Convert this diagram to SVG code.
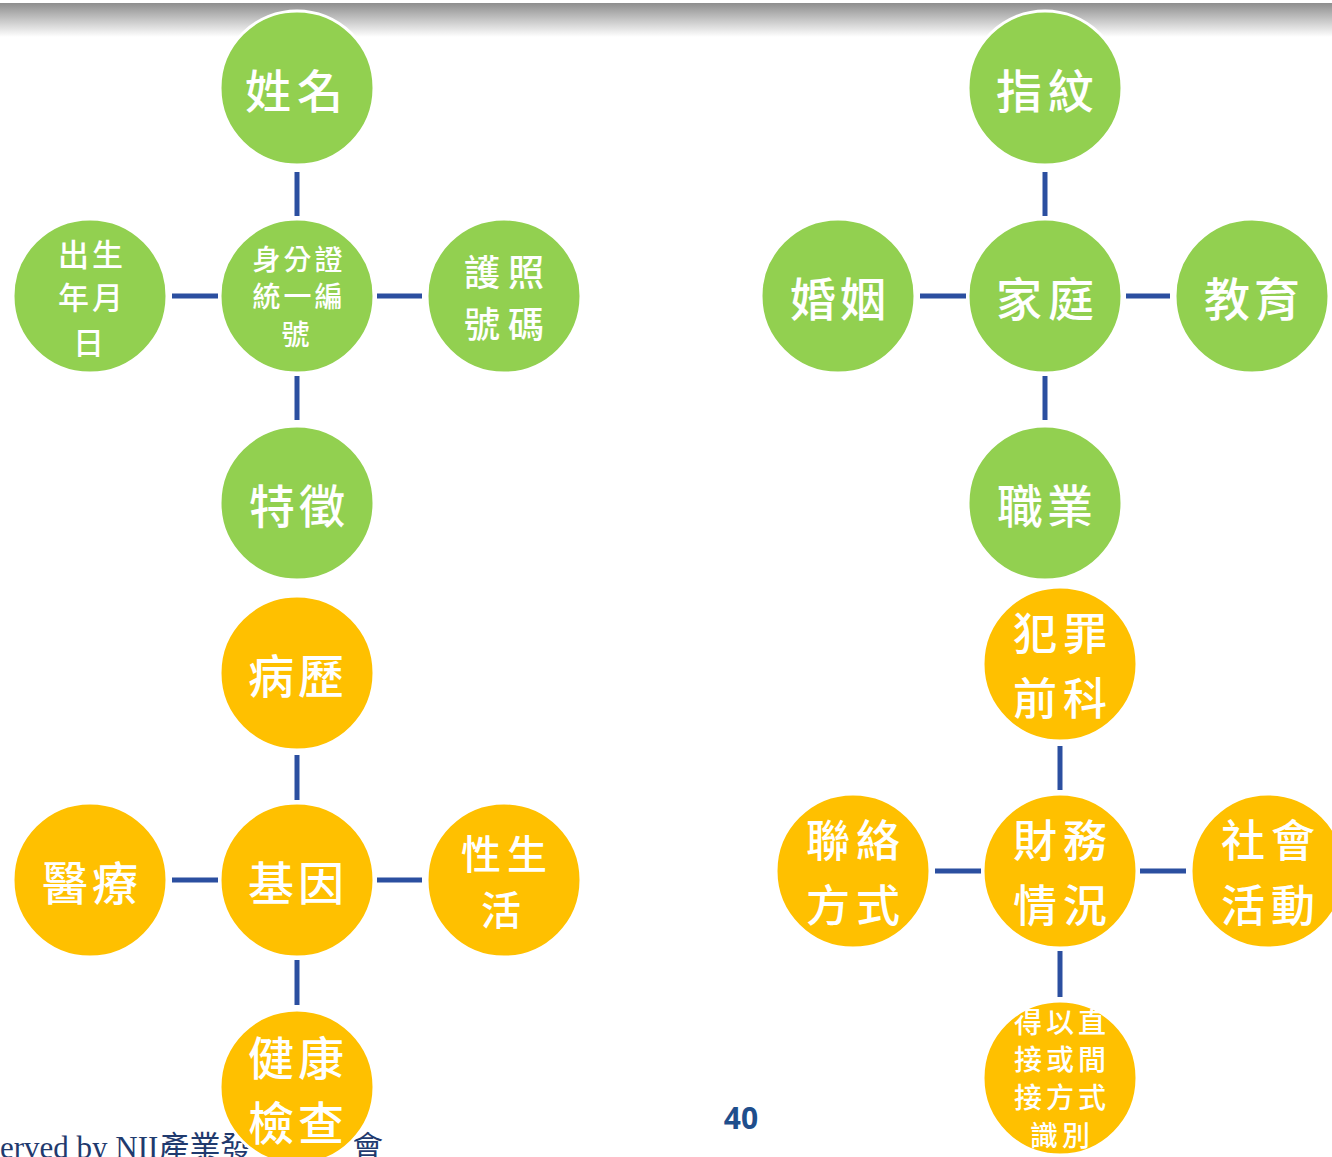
<svg xmlns="http://www.w3.org/2000/svg" width="1332" height="1157" viewBox="0 0 1332 1157">
  <defs>
    <linearGradient id="topShade" x1="0" y1="0" x2="0" y2="1">
      <stop offset="0" stop-color="#8e8e8e"/>
      <stop offset="1" stop-color="#ffffff"/>
    </linearGradient>
  </defs>
  <style>
    .g { fill: #92d050; stroke: #ffffff; stroke-width: 3; }
    .o { fill: #ffc000; stroke: #ffffff; stroke-width: 3; }
    .lbl { fill: #ffffff; font-family: "Noto Sans CJK TC", "Noto Sans CJK SC", sans-serif; font-weight: 500; text-anchor: middle; dominant-baseline: central; }
    .link { stroke: #2b4fa0; stroke-width: 5; fill: none; }
    .foot { font-family: "Liberation Serif", "Noto Sans CJK TC", serif; font-size: 31px; fill: #1f3a6e; }
  </style>

  <rect x="0" y="0" width="1332" height="1157" fill="#ffffff"/>
  <rect x="0" y="3" width="1332" height="34" fill="url(#topShade)"/>

  <!-- connectors -->
  <g id="connectors">
    <line class="link" x1="297" y1="172" x2="297" y2="216"/>
    <line class="link" x1="297" y1="376" x2="297" y2="420"/>
    <line class="link" x1="172" y1="296" x2="218" y2="296"/>
    <line class="link" x1="377" y1="296" x2="422" y2="296"/>

    <line class="link" x1="1045" y1="172" x2="1045" y2="216"/>
    <line class="link" x1="1045" y1="376" x2="1045" y2="420"/>
    <line class="link" x1="920" y1="296" x2="966" y2="296"/>
    <line class="link" x1="1126" y1="296" x2="1170" y2="296"/>

    <line class="link" x1="297" y1="755" x2="297" y2="800"/>
    <line class="link" x1="297" y1="960" x2="297" y2="1005"/>
    <line class="link" x1="172" y1="880" x2="218" y2="880"/>
    <line class="link" x1="377" y1="880" x2="422" y2="880"/>

    <line class="link" x1="1060" y1="746" x2="1060" y2="790"/>
    <line class="link" x1="1060" y1="951" x2="1060" y2="997"/>
    <line class="link" x1="935" y1="871" x2="981" y2="871"/>
    <line class="link" x1="1140" y1="871" x2="1186" y2="871"/>
  </g>

  <!-- footer -->
  <text class="foot" x="0" y="1158">erved by NII產業發</text>
  <text class="foot" x="352" y="1158">會</text>
  <text x="741" y="1129" font-family="Open Sans, Liberation Sans, sans-serif" font-weight="700" font-size="30" fill="#1f4e8c" text-anchor="middle">40</text>

  <!-- green cluster, left -->
  <g id="n-name"><circle class="g" cx="297" cy="88" r="77"/><text class="lbl" x="297" y="88" font-size="46" letter-spacing="6">姓名</text></g>
  <g id="n-birth"><circle class="g" cx="90" cy="296" r="77"/>
    <text class="lbl" font-size="31" letter-spacing="3"><tspan x="92" y="252">出生</tspan><tspan x="92" y="295">年月</tspan><tspan x="90" y="340">日</tspan></text></g>
  <g id="n-id"><circle class="g" cx="297" cy="296" r="77"/>
    <text class="lbl" font-size="28" letter-spacing="3"><tspan x="299" y="258">身分證</tspan><tspan x="299" y="295">統一編</tspan><tspan x="297" y="333">號</tspan></text></g>
  <g id="n-passport"><circle class="g" cx="504" cy="296" r="77"/>
    <text class="lbl" font-size="36" letter-spacing="8"><tspan x="508" y="270">護照</tspan><tspan x="508" y="322">號碼</tspan></text></g>
  <g id="n-feature"><circle class="g" cx="297" cy="503" r="77"/><text class="lbl" x="299" y="503" font-size="46" letter-spacing="4">特徵</text></g>

  <!-- green cluster, right -->
  <g id="n-finger"><circle class="g" cx="1045" cy="88" r="77"/><text class="lbl" x="1048" y="88" font-size="46" letter-spacing="6">指紋</text></g>
  <g id="n-marriage"><circle class="g" cx="838" cy="296" r="77"/><text class="lbl" x="840" y="296" font-size="46" letter-spacing="4">婚姻</text></g>
  <g id="n-family"><circle class="g" cx="1045" cy="296" r="77"/><text class="lbl" x="1048" y="296" font-size="46" letter-spacing="6">家庭</text></g>
  <g id="n-edu"><circle class="g" cx="1252" cy="296" r="77"/><text class="lbl" x="1254" y="296" font-size="46" letter-spacing="4">教育</text></g>
  <g id="n-job"><circle class="g" cx="1045" cy="503" r="77"/><text class="lbl" x="1047" y="503" font-size="46" letter-spacing="4">職業</text></g>

  <!-- orange cluster, left -->
  <g id="n-history"><circle class="o" cx="297" cy="673" r="77"/><text class="lbl" x="298" y="673" font-size="46" letter-spacing="4">病歷</text></g>
  <g id="n-medical"><circle class="o" cx="90" cy="880" r="77"/><text class="lbl" x="92" y="880" font-size="46" letter-spacing="4">醫療</text></g>
  <g id="n-gene"><circle class="o" cx="297" cy="880" r="77"/><text class="lbl" x="298" y="880" font-size="46" letter-spacing="4">基因</text></g>
  <g id="n-sex"><circle class="o" cx="504" cy="880" r="77"/>
    <text class="lbl" font-size="40" letter-spacing="6"><tspan x="507" y="852">性生</tspan><tspan x="504" y="908">活</tspan></text></g>
  <g id="n-checkup"><circle class="o" cx="297" cy="1087" r="77"/>
    <text class="lbl" font-size="46" letter-spacing="4"><tspan x="298" y="1055">健康</tspan><tspan x="298" y="1120">檢查</tspan></text></g>

  <!-- orange cluster, right -->
  <g id="n-crime"><circle class="o" cx="1060" cy="664" r="77"/>
    <text class="lbl" font-size="44" letter-spacing="6"><tspan x="1063" y="631">犯罪</tspan><tspan x="1063" y="696">前科</tspan></text></g>
  <g id="n-contact"><circle class="o" cx="853" cy="871" r="77"/>
    <text class="lbl" font-size="44" letter-spacing="6"><tspan x="856" y="838">聯絡</tspan><tspan x="856" y="903">方式</tspan></text></g>
  <g id="n-finance"><circle class="o" cx="1060" cy="871" r="77"/>
    <text class="lbl" font-size="44" letter-spacing="6"><tspan x="1063" y="838">財務</tspan><tspan x="1063" y="903">情況</tspan></text></g>
  <g id="n-social"><circle class="o" cx="1268" cy="871" r="77"/>
    <text class="lbl" font-size="44" letter-spacing="6"><tspan x="1271" y="838">社會</tspan><tspan x="1271" y="903">活動</tspan></text></g>
  <g id="n-identify"><circle class="o" cx="1060" cy="1078" r="77"/>
    <text class="lbl" font-size="28" letter-spacing="4"><tspan x="1062" y="1021">得以直</tspan><tspan x="1062" y="1058">接或間</tspan><tspan x="1062" y="1096">接方式</tspan><tspan x="1062" y="1134">識別</tspan></text></g>
</svg>
